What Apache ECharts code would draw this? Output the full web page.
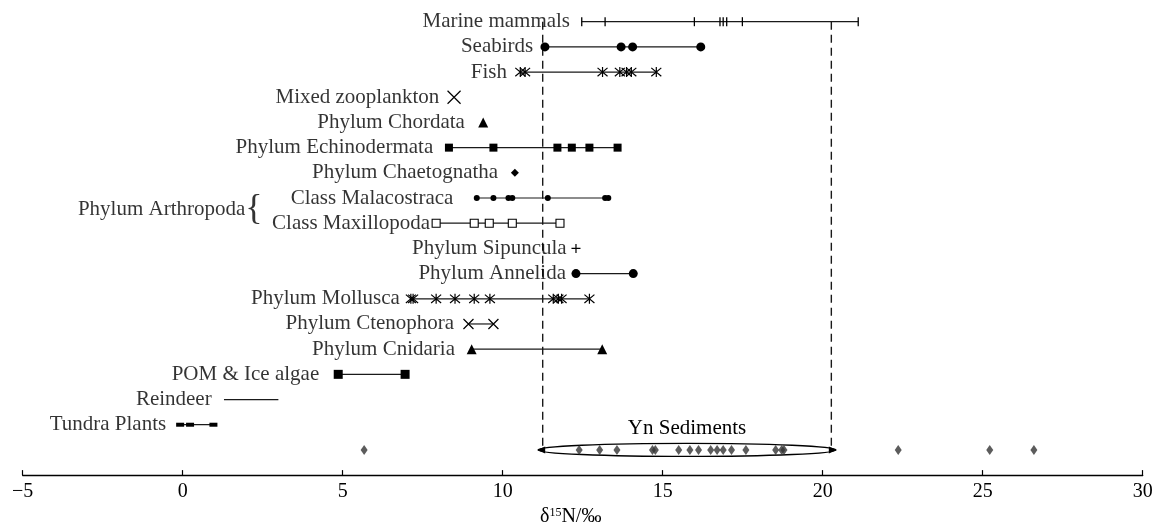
<!DOCTYPE html>
<html>
<head>
<meta charset="utf-8">
<script src="https://cdn.jsdelivr.net/npm/echarts@6/dist/echarts.min.js"></script>
<style>
  html, body { margin: 0; padding: 0; background: #fff; }
  #chart { width: 1157px; height: 532px; }
</style>
</head>
<body>
<div id="chart"></div>
<script>
// δ15N values (‰) of each group, top row first
const groupNames = [
  'Marine mammals', 'Seabirds', 'Fish', 'Mixed zooplankton', 'Phylum Chordata',
  'Phylum Echinodermata', 'Phylum Chaetognatha', 'Class Malacostraca', 'Class Maxillopoda',
  'Phylum Sipuncula', 'Phylum Annelida', 'Phylum Mollusca', 'Phylum Ctenophora',
  'Phylum Cnidaria', 'POM & Ice algae', 'Reindeer', 'Tundra Plants'
];
const marineMammals = [12.47, 13.20, 15.99, 16.79, 16.89, 17.00, 17.49, 21.11];
const seabirds = [11.32, 13.70, 14.06, 16.19];
const fish = [10.55, 10.70, 13.12, 13.66, 13.87, 14.02, 14.80];
const mixedZooplankton = [8.48];
const chordata = [9.39];
const echinodermata = [8.32, 9.71, 11.71, 12.16, 12.71, 13.59];
const chaetognatha = [10.38];
const malacostraca = [9.19, 9.71, 10.18, 10.30, 11.41, 13.20, 13.30];
const maxillopoda = [7.92, 9.11, 9.58, 10.30, 11.79];
const sipuncula = [12.29];
const annelida = [12.29, 14.08];
const mollusca = [7.13, 7.20, 7.92, 8.51, 9.11, 9.60, 11.58, 11.74, 11.84, 12.71];
const ctenophora = [8.93, 9.71];
const cnidaria = [9.03, 13.11];
const pomIceAlgae = [4.86, 6.95];
const reindeer = [1.29, 2.99];
const tundraPlants = [-0.08, 0.23, 0.96];
const ynSediments = [5.67, 12.39, 13.03, 13.57, 14.68, 14.77, 15.50, 15.85, 16.12, 16.50,
  16.70, 16.89, 17.15, 17.60, 18.53, 18.72, 18.79, 22.36, 25.22, 26.60];
const ynSedimentRange = [11.25, 20.27];
const xTicks = [-5, 0, 5, 10, 15, 20, 25, 30];

const groupValues = [marineMammals, seabirds, fish, mixedZooplankton, chordata, echinodermata,
  chaetognatha, malacostraca, maxillopoda, sipuncula, annelida, mollusca, ctenophora, cnidaria,
  pomIceAlgae, reindeer, tundraPlants];
const sedimentRow = groupNames.length;

// ---- styling ----
const FONT = '"Liberation Serif", "Times New Roman", serif';
const INK = '#000';
const ASTER = 'path://M0,0L10,10M0,10L10,0M5,-1L5,11';
const CROSS = 'path://M0,0L10,10M0,10L10,0';
const PLUS = 'path://M5,0L5,10M0,5L10,5';
const markerStyles = [
  { symbol: 'rect', size: [1.3, 9] },
  { symbol: 'circle', size: 9 },
  { symbol: ASTER, size: 10, stroke: true },
  { symbol: CROSS, size: 13, stroke: true },
  { symbol: 'triangle', size: 10 },
  { symbol: 'rect', size: 8 },
  { symbol: 'diamond', size: 8 },
  { symbol: 'circle', size: 6 },
  { symbol: 'rect', size: 8, hollow: true },
  { symbol: PLUS, size: 9, stroke: true },
  { symbol: 'circle', size: 9 },
  { symbol: ASTER, size: 10, stroke: true },
  { symbol: CROSS, size: 10, stroke: true },
  { symbol: 'triangle', size: 10 },
  { symbol: 'rect', size: 9 },
  { symbol: 'none', size: 0 },
  { symbol: 'rect', size: [8, 4] }
];
// spacing between the end of each row's name and its first mark
const labelGaps = [11.7, 11.7, 13.3, 14.7, 18.3, 15.7, 16.7, 23.4, 6, 9.3, 10, 11, 14.3, 16.7, 19, 12.3, 14];

function textWidth(str, size) {
  const ctx = document.createElement('canvas').getContext('2d');
  ctx.font = size + 'px ' + FONT;
  return ctx.measureText(str).width;
}

const series = [];

// sediment range: dashed bounds and ellipse
series.push({
  type: 'custom',
  data: [ynSedimentRange],
  encode: { x: [0, 1] },
  clip: false,
  silent: true,
  z: 1,
  renderItem(params, api) {
    const lo = api.value(0), hi = api.value(1);
    const topL = api.coord([lo, 0]), topR = api.coord([hi, 0]);
    const botL = api.coord([lo, sedimentRow]), botR = api.coord([hi, sedimentRow]);
    const cx = (botL[0] + botR[0]) / 2, cy = botL[1];
    const rx = (botR[0] - botL[0]) / 2 + 4.5, ry = 6.5;
    const dash = { stroke: '#1a1a1a', lineWidth: 1.4, lineDash: [8, 5] };
    return {
      type: 'group',
      children: [
        { type: 'line', shape: { x1: topL[0], y1: topL[1], x2: botL[0], y2: botL[1] }, style: dash },
        { type: 'line', shape: { x1: topR[0], y1: topR[1], x2: botR[0], y2: botR[1] }, style: dash },
        { type: 'ellipse', shape: { cx: cx, cy: cy, rx: rx, ry: ry }, style: { fill: null, stroke: INK, lineWidth: 1.4 } },
        { type: 'polygon', shape: { points: [[cx - rx - 1, cy], [cx - rx + 7, cy - 3.5], [cx - rx + 7, cy + 3.5]] }, style: { fill: INK } },
        { type: 'polygon', shape: { points: [[cx + rx + 1, cy], [cx + rx - 7, cy - 3.5], [cx + rx - 7, cy + 3.5]] }, style: { fill: INK } },
        { type: 'text', x: cx, y: cy - 21, style: { text: 'Yn Sediments', font: '21px ' + FONT, align: 'center', verticalAlign: 'middle', fill: INK } }
      ]
    };
  }
});

// one line per group
groupValues.forEach((vals, i) => {
  const m = markerStyles[i];
  let itemStyle;
  if (m.stroke) itemStyle = { color: INK, borderColor: INK, borderWidth: 1.2 };
  else if (m.hollow) itemStyle = { color: '#fff', borderColor: INK, borderWidth: 1.1 };
  else itemStyle = { color: INK, borderWidth: 0 };
  series.push({
    type: 'line',
    data: vals.map(v => [v, i]),
    symbol: m.symbol === 'none' ? 'none' : m.symbol,
    symbolSize: m.size,
    showSymbol: m.symbol !== 'none',
    lineStyle: { color: '#1a1a1a', width: 1.2 },
    itemStyle: itemStyle,
    clip: false,
    silent: true,
    z: 3
  });
});

// sediment samples
series.push({
  type: 'scatter',
  data: ynSediments.map(v => [v, sedimentRow]),
  symbol: 'diamond',
  symbolSize: [7, 10],
  itemStyle: { color: '#333' },
  clip: false,
  silent: true,
  z: 4
});

// group names, placed left of each row's first mark
const labelData = groupNames.map((name, i) => ({
  name: name,
  value: [groupValues[i][0], i],
  label: { distance: labelGaps[i] - 0.5 }
}));
labelData.push({
  name: '{a|Phylum Arthropoda}{b|{}',
  value: [maxillopoda[0], 7.45],
  label: { distance: labelGaps[8] + textWidth('Class Maxillopoda', 21) + 9 }
});
series.push({
  type: 'scatter',
  data: labelData,
  symbol: 'rect',
  symbolSize: 1,
  itemStyle: { color: 'rgba(0,0,0,0)' },
  clip: false,
  silent: true,
  z: 5,
  label: {
    show: true,
    position: 'left',
    formatter: p => p.name,
    fontFamily: FONT,
    fontSize: 21,
    color: INK,
    rich: {
      a: { fontFamily: FONT, fontSize: 21, color: INK },
      b: { fontFamily: FONT, fontSize: 36, color: INK, fontWeight: 'lighter' }
    }
  }
});

const chart = echarts.init(document.getElementById('chart'), null, { renderer: 'canvas' });
chart.setOption({
  animation: false,
  backgroundColor: '#fff',
  grid: { left: 22.7, right: 14.3, top: 21.7, bottom: 54.7, containLabel: false },
  xAxis: {
    type: 'value',
    position: 'bottom',
    min: xTicks[0],
    max: xTicks[xTicks.length - 1],
    interval: xTicks[1] - xTicks[0],
    axisLine: { onZero: false, lineStyle: { color: INK, width: 1.4 } },
    axisTick: { inside: true, length: 5, lineStyle: { color: INK, width: 1.2 } },
    splitLine: { show: false },
    axisLabel: {
      fontFamily: FONT, fontSize: 20, color: INK, margin: 7,
      formatter: v => (v < 0 ? '\u2212' + Math.abs(v) : String(v))
    },
    name: '{a|δ}{s|15}{a|N/‰}',
    nameLocation: 'middle',
    nameGap: 30,
    nameTextStyle: {
      padding: [0, 24, 0, 0],
      rich: {
        a: { fontFamily: FONT, fontSize: 20, color: INK },
        s: { fontFamily: FONT, fontSize: 12, color: INK, verticalAlign: 'top' }
      }
    }
  },
  yAxis: { type: 'value', inverse: true, min: 0, max: 18, show: false },
  series: series
});
</script>
</body>
</html>
